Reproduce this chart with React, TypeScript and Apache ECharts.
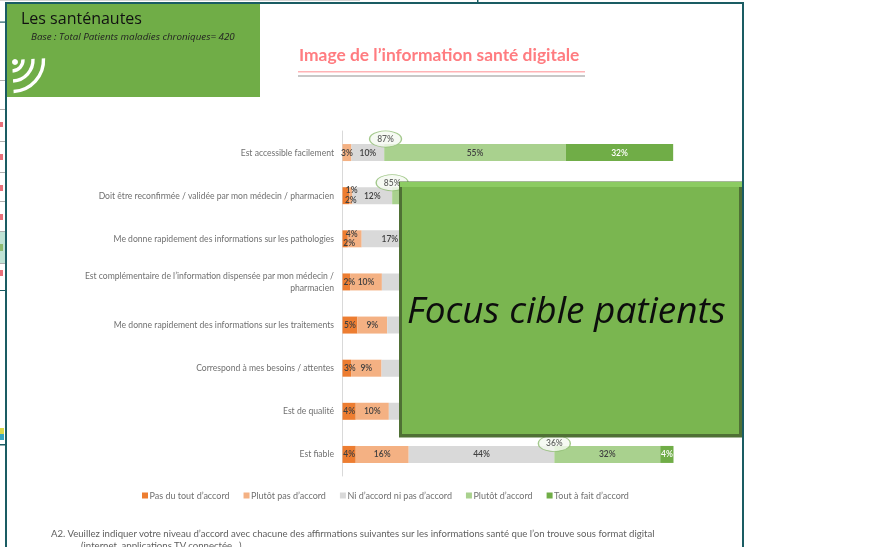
import React, { useEffect, useRef } from "react";
import * as echarts from "echarts";

const categories = [
  "Est accessible facilement",
  "Doit être reconfirmée / validée par mon médecin / pharmacien",
  "Me donne rapidement des informations sur les pathologies",
  "Est complémentaire de l’information dispensée par mon médecin /\npharmacien",
  "Me donne rapidement des informations sur les traitements",
  "Correspond à mes besoins / attentes",
  "Est de qualité",
  "Est fiable",
];
const seriesNames = [
  "Pas du tout d’accord",
  "Plutôt pas d’accord",
  "Ni d’accord ni pas d’accord",
  "Plutôt d’accord",
  "Tout à fait d’accord",
];
const colors = ["#ed7d31", "#f4b183", "#d9d9d9", "#a9d18e", "#70ad47"];
// null: hidden behind the "Focus cible patients" box, cannot be read
const pasDuTout = [null, 2, 1.6, 2.3, 4.5, 2.6, 4, 4];
const plutotPas = [2.7, 1, 4.2, 9.6, 9, 9.2, 10, 16];
const niNi = [9.9, 12, 17, 20, 20, 20, 20, 44];
const plutotOui = [54.9, 85, null, null, null, null, null, 32];
const toutAFait = [32.4, null, null, null, null, null, null, 4];
const seriesValues = [pasDuTout, plutotPas, niNi, plutotOui, toutAFait];
// rows whose grey share is partly estimated, its label lies under the box
const hiddenGreyLabels = [3, 4, 5, 6];
const hiddenGreenLabels = [1];
const bubbleRows = [0, 1, 7];
const bubbleValues = [87, 85, 36];

const font = "Lato";
const labelOffsets: Record<string, number[]> = {
  "0-1": [5, 4],
  "1-1": [1, -6],
  "0-2": [4, 4],
  "1-2": [-3, -5],
  "0-3": [3, 0],
  "0-5": [3, 0],
};
const bubbleOffsets = [-13.5, -13, -11];

function App() {
  const ref = useRef<HTMLDivElement>(null);
  useEffect(() => {
    document.body.style.margin = "0";
    const chart = echarts.init(ref.current!, null, { renderer: "svg" });
    const bars = seriesValues.map((vals, s) => ({
      type: "bar",
      name: seriesNames[s],
      stack: "total",
      barWidth: 17,
      itemStyle: { color: colors[s] },
      label: {
        show: true,
        position: "inside",
        fontFamily: font,
        fontSize: 8.5,
        fontWeight: 600,
        color: s === 4 ? "#ffffff" : "#404040",
        formatter: (p: any) => Math.round(p.value) + "%",
      },
      data: vals.map((v, r) => {
        const hide =
          (s === 2 && hiddenGreyLabels.includes(r)) ||
          (s === 3 && hiddenGreenLabels.includes(r));
        const off = labelOffsets[s + "-" + r];
        if (hide) return { value: v, label: { show: false } };
        if (off) return { value: v, label: { offset: off } };
        return v;
      }),
    }));
    const bubbles = {
      type: "scatter",
      z: 5,
      silent: true,
      symbol: "circle",
      symbolSize: [32, 16],
      itemStyle: { color: "#f4f9f0", borderColor: "#8dbb70", borderWidth: 1 },
      label: {
        show: true,
        position: "inside",
        fontFamily: font,
        fontSize: 8.5,
        fontWeight: 600,
        color: "#404040",
        formatter: (p: any) => 100 - p.value[0] + "%",
      },
      data: bubbleValues.map((v, i) => ({
        value: [100 - v, bubbleRows[i]],
        symbolOffset: [0, bubbleOffsets[i]],
      })),
    };
    const white = "#ffffff";
    const bits = (x: number, y: number, w: number, h: number, fill: string) => ({
      type: "rect",
      z: 50,
      shape: { x, y, width: w, height: h },
      style: { fill },
    });
    chart.setOption({
      animation: false,
      backgroundColor: "#ffffff",
      grid: { left: 342.5, top: 131, width: 331, height: 345 },
      xAxis: { type: "value", min: 0, max: 100, show: false },
      yAxis: {
        type: "category",
        inverse: true,
        data: categories,
        axisTick: { show: false },
        axisLine: { show: true, lineStyle: { color: "#d9d9d9", width: 1 } },
        axisLabel: {
          margin: 8.5,
          fontFamily: font,
          fontSize: 8.6,
          lineHeight: 12,
          color: "#707070",
          align: "right",
        },
      },
      legend: {
        left: 137,
        top: 486,
        itemWidth: 6,
        itemHeight: 6,
        itemGap: 14,
        icon: "rect",
        data: seriesNames,
        textStyle: { fontFamily: font, fontSize: 9, color: "#707070", padding: [0, 0, 0, -3.5] },
      },
      series: [...bars, bubbles],
      graphic: [
        // frame and fragments of the slide behind it
        bits(0, 0, 360, 1, "#d4d4d4"),
        bits(0, 21.5, 5, 1.2, "#1a5c63"),
        bits(0, 80, 5, 1, "#b0b0b0"),
        bits(0, 109, 5, 1, "#b0b0b0"),
        bits(0, 141, 5, 1, "#b0b0b0"),
        bits(0, 172, 5, 1, "#b0b0b0"),
        bits(0, 201, 5, 1, "#b0b0b0"),
        bits(0, 231, 5, 1, "#b0b0b0"),
        bits(0, 232, 5, 31, "#bfe3d5"),
        bits(0, 263, 5, 1, "#b0b0b0"),
        bits(0, 290, 5, 1, "#1a5c63"),
        bits(0, 122, 3, 5, "#e8707a"),
        bits(0, 154, 3, 6, "#e8707a"),
        bits(0, 185, 3, 6, "#e8707a"),
        bits(0, 214, 3, 6, "#e8707a"),
        bits(0, 244, 3, 7, "#8dbb70"),
        bits(0, 270, 3, 6, "#e8707a"),
        bits(0, 428, 4, 6, "#d8d84a"),
        bits(0, 434, 4, 6, "#35a6c0"),
        bits(0, 444, 5, 1.5, "#1a5c63"),
        bits(477, 0, 1.5, 2, "#1a5c63"),
        bits(5, 2, 738, 2, "#1a5c63"),
        bits(5, 2, 2, 545, "#1a5c63"),
        bits(742, 2, 2, 545, "#1a5c63"),
        // header block
        bits(7, 4, 253, 93, "#70ad47"),
        {
          type: "text",
          z: 51,
          x: 21,
          y: 9.5,
          style: { text: "Les santénautes", font: `16px 'Open Sans'`, fill: "#111111" },
        },
        {
          type: "text",
          z: 51,
          x: 31,
          y: 31,
          style: {
            text: "Base : Total Patients maladies chroniques= 420",
            font: `italic 9.8px 'Open Sans'`,
            fill: "#222222",
          },
        },
        { type: "circle", z: 51, shape: { cx: 15, cy: 62, r: 3 }, style: { fill: white } },
        ...[11, 21, 31.5].map((r) => ({
          type: "arc",
          z: 51,
          shape: { cx: 12, cy: 60, r, startAngle: -0.05, endAngle: Math.PI / 2 - 0.05, clockwise: true },
          style: { stroke: white, lineWidth: 3.4, fill: "none" },
        })),
        // title
        {
          type: "text",
          z: 51,
          x: 299,
          y: 46,
          style: {
            text: "Image de l’information santé digitale",
            font: `bold 17.4px Lato`,
            fill: "#ff7c80",
          },
        },
        bits(298, 71, 287, 1.6, "#ffb3b6"),
        bits(298, 75, 287, 2, "#c8c8c8"),
        // focus box
        bits(399, 181.5, 343, 256, "#4f7035"),
        bits(400, 182, 342, 5, "#8ccb62"),
        bits(402, 187, 337, 247, "#7ab650"),
        {
          type: "text",
          z: 52,
          x: 407,
          y: 290,
          style: {
            text: "Focus cible patients",
            font: `italic 37px 'Open Sans'`,
            fill: "#0d0d0d",
          },
        },
        // footnote
        {
          type: "text",
          z: 51,
          x: 51,
          y: 528,
          style: {
            text: "A2. Veuillez indiquer votre niveau d’accord avec chacune des affirmations suivantes sur les informations santé que l’on trouve sous format digital",
            font: `9.6px Lato`,
            fill: "#606060",
          },
        },
        {
          type: "text",
          z: 51,
          x: 81,
          y: 540.5,
          style: {
            text: "(internet, applications TV connectée...)",
            font: `9.6px Lato`,
            fill: "#606060",
          },
        },
      ],
    });
    return () => chart.dispose();
  }, []);
  return (
    <div
      ref={ref}
      style={{ position: "absolute", left: 0, top: 0, width: 894, height: 547, filter: "blur(0.5px)" }}
    />
  );
}

export default App;
